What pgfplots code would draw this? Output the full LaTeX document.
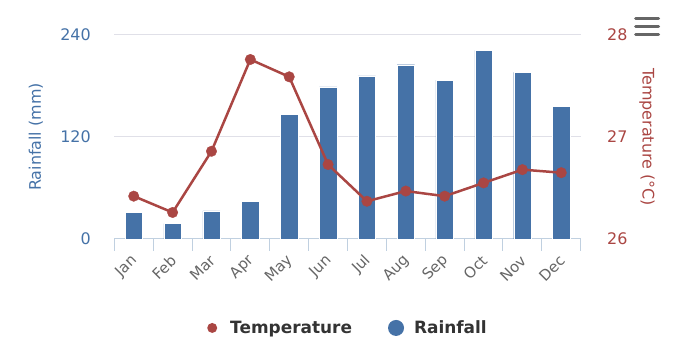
\documentclass[border=0pt]{standalone}
\usepackage{pgfplots}
\pgfplotsset{compat=1.18}
\usepackage{fontspec}
\setmainfont{DejaVu Sans}
\definecolor{barblue}{HTML}{4572A7}
\definecolor{tempred}{HTML}{AA4643}
\definecolor{gridgray}{HTML}{E0E0E8}
\definecolor{axisline}{HTML}{C0D0E0}
\definecolor{labelgray}{HTML}{666666}
\definecolor{legendtext}{HTML}{333333}
\definecolor{menugray}{HTML}{666666}
\pgfplotsset{
  common/.style={
    scale only axis, width=466.4bp, height=204bp,
    at={(114.3bp,111bp)}, anchor=south west,
    xmin=-0.5, xmax=11.5,
    /pgf/number format/assume math mode=true,
    font=\fontsize{16}{19}\selectfont,
    y axis line style={draw=none},
    ytick style={draw=none},
  }
}
\begin{document}
\begin{tikzpicture}
\path[use as bounding box] (0,0) rectangle (700bp,350bp);
\begin{axis}[common,
  ymin=0, ymax=240, ytick={0,120,240},
  separate axis lines,
  axis x line*=bottom, axis y line*=left,
  x axis line style={draw=axisline, line width=1bp, -},
  xtick={0,...,11},
  xticklabels={Jan,Feb,Mar,Apr,May,Jun,Jul,Aug,Sep,Oct,Nov,Dec},
  minor xtick={-0.5,0.5,...,11.5},
  major tick length=0pt,
  minor tick length=12bp,
  tick align=outside,
  minor x tick style={draw=axisline, line width=1bp},
  ymajorgrids, major grid style={draw=gridgray, line width=1bp},
  yticklabel style={text=barblue, xshift=-20bp},
  xticklabel style={font=\fontsize{15}{18}\selectfont, text=labelgray, inner sep=0pt, xshift=1bp, yshift=-19bp, rotate=45, anchor=east},
  ylabel={Rainfall (mm)},
  ylabel style={text=barblue, at={(axis description cs:-0.168,0.5)}, anchor=center},
]
\addplot[ybar, bar width=17.4bp, fill=barblue, draw=white, line width=0.4bp]
  coordinates {(0,31) (1,18) (2,33) (3,44) (4,147) (5,179) (6,192) (7,205) (8,187) (9,222) (10,196) (11,156)};
\end{axis}
\begin{axis}[common,
  ymin=26, ymax=28, ytick={26,27,28},
  axis x line=none, axis y line*=right,
  yticklabel style={text=tempred, xshift=23bp},
  ylabel={Temperature (°C)},
  ylabel style={text=tempred, at={(axis description cs:1.142,0.5)}, rotate=180, anchor=center},
  legend style={draw=none, fill=none, legend columns=2,
    at={(axis description cs:0.5,-0.436)}, anchor=center,
    font=\bfseries\fontsize{17}{20}\selectfont, text=legendtext,
    /tikz/every even column/.append style={column sep=34bp}},
]
\addplot[tempred, line width=2.5bp, mark=*, mark size=5.3bp, mark options={fill=tempred, draw=tempred, line width=0.3bp}, forget plot]
  coordinates {(0,26.42) (1,26.26) (2,26.86) (3,27.76) (4,27.59) (5,26.73) (6,26.37) (7,26.47) (8,26.42) (9,26.55) (10,26.68) (11,26.65)};
\addlegendimage{legend image code/.code={\path[draw=none,fill=none] (0,-5bp) rectangle (22bp,5bp); \fill[tempred, draw=none] (6bp,0) circle (5bp);}}
\addlegendentry{Temperature}
\addlegendimage{legend image code/.code={\path[draw=none,fill=none] (0,-8bp) rectangle (22bp,8bp); \fill[barblue, draw=none] (6bp,0) circle (8bp);}}
\addlegendentry{Rainfall}
\end{axis}
\draw[line width=3bp, line cap=round, menugray] (635.5bp,331.7bp) -- (658.5bp,331.7bp);
\draw[line width=3bp, line cap=round, menugray] (635.5bp,323.3bp) -- (658.5bp,323.3bp);
\draw[line width=3bp, line cap=round, menugray] (635.5bp,315bp) -- (658.5bp,315bp);
\end{tikzpicture}
\end{document}
